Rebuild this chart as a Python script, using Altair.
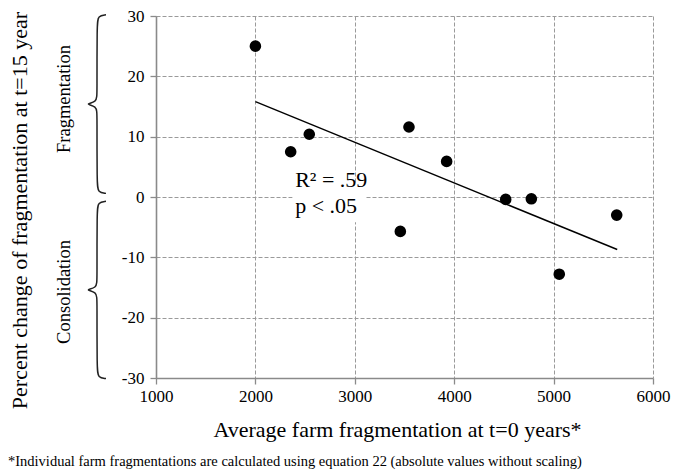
import altair as alt
import pandas as pd

# ---- data ----
avg_frag = [2000, 2355, 2542, 3545, 3924, 3458, 4518, 4776, 5057, 5635]
pct_change = [25.0, 7.5, 10.4, 11.6, 5.9, -5.7, -0.4, -0.3, -12.8, -3.0]

trend_x = [2000, 5640]
trend_y = [15.8, -8.7]

x_ticks = [1000, 2000, 3000, 4000, 5000, 6000]
y_ticks = [-30, -20, -10, 0, 10, 20, 30]

stats_lines = ["R\u00b2 = .59", "p < .05"]
stats_y = [1.6, -2.6]
stats_x = 2400

FONT = "Liberation Serif"

pts = pd.DataFrame({"x": avg_frag, "y": pct_change})
trend = pd.DataFrame({"x": trend_x, "y": trend_y})

xs = alt.Scale(domain=[1000, 6000], nice=False, zero=False)
ys = alt.Scale(domain=[-30, 30], nice=False, zero=False)

common = dict(grid=True, gridDash=[4, 2], gridColor="#9a9a9a", gridWidth=1,
              domainColor="#8a8a8a", domainWidth=1.6, tickColor="#8a8a8a",
              tickSize=6, tickWidth=1.3, labelFlush=False, labelOverlap=False,
              labelFont=FONT, labelFontSize=17, labelColor="black",
              titleFont=FONT, titleFontWeight="normal",
              titleColor="black", labelExpr="datum.value + ''")

x_axis = alt.Axis(values=x_ticks, labelPadding=4,
                  title="Average farm fragmentation at t=0 years*",
                  titleFontSize=22,
                  titleX=241, titleY=58, titleBaseline="alphabetic", **common)
y_axis = alt.Axis(values=y_ticks, labelPadding=6,
                  title="Percent change of fragmentation at t=15 year",
                  titleFontSize=22,
                  titleAngle=270, titleX=-137, titleY=194,
                  titleAlign="center", titleBaseline="middle", **common)

X = alt.X("x:Q", scale=xs, axis=x_axis)
Y = alt.Y("y:Q", scale=ys, axis=y_axis)

# white box behind the statistics text
box_df = pd.DataFrame({"x": [2375], "x2": [3105], "y": [2.2], "y2": [-4.2]})
box = alt.Chart(box_df).mark_rect(color="white").encode(x=X, x2="x2:Q", y=Y, y2="y2:Q")

line = alt.Chart(trend).mark_line(color="black", strokeWidth=1.4).encode(x=X, y=Y)

points = alt.Chart(pts).mark_circle(color="black", opacity=1, size=135).encode(x=X, y=Y)

stats_df = pd.DataFrame({"t": stats_lines, "y": stats_y, "x": [stats_x] * 2})
stats = alt.Chart(stats_df).mark_text(font=FONT, fontSize=22, align="left",
                                      baseline="alphabetic", color="black").encode(
    x=X, y=Y, text="t:N"
)

# curly braces (decoration), shape in pixel offsets converted through x scale
PX_PER_UNIT = 497 / 5000.0
def px_to_x(px):
    return 1000 + (px - 156) / PX_PER_UNIT

brace_shape = [(106, 0.0), (98, 0.006), (97, 0.05), (97, 0.44), (97, 0.49), (84, 0.5),
               (97, 0.51), (97, 0.56), (97, 0.95), (98, 0.994), (106, 1.0)]
brace_ranges = {"upper": (30.2, 0.6), "lower": (-0.7, -30.1)}
rows = []
for name, (top, bot) in brace_ranges.items():
    for i, (px, f) in enumerate(brace_shape):
        rows.append({"b": name, "o": i, "x": px_to_x(px), "y": top - f * (top - bot)})
brace_df = pd.DataFrame(rows)
braces = alt.Chart(brace_df).mark_line(color="#222222", strokeWidth=1.5,
                                       interpolate="basis").encode(
    x=X, y=Y, detail="b:N", order="o:Q"
)

side_df = pd.DataFrame({"t": ["Fragmentation", "Consolidation"], "py": [83, 276]})
side = alt.Chart(side_df).mark_text(font=FONT, fontSize=18.5, angle=270, align="center",
                                    baseline="middle", color="black").encode(
    x=alt.value(-92), y=alt.Y("py:Q", scale=None), text="t:N"
)

foot_df = pd.DataFrame({"t": ["*Individual farm fragmentations are calculated using equation 22 (absolute values without scaling)"]})
foot = alt.Chart(foot_df).mark_text(font=FONT, fontSize=14.5, align="left",
                                    baseline="alphabetic", color="black").encode(
    x=alt.value(-148), y=alt.value(450), text="t:N"
)

chart = alt.layer(box, line, points, stats, braces, side, foot).properties(
    width=497, height=362,
    autosize=alt.AutoSizeParams(type="none"),
    padding={"left": 148, "top": 8, "right": 26, "bottom": 96},
).configure_view(stroke=None)

chart.save("out.html", embed_options={"renderer": "svg", "actions": False})
